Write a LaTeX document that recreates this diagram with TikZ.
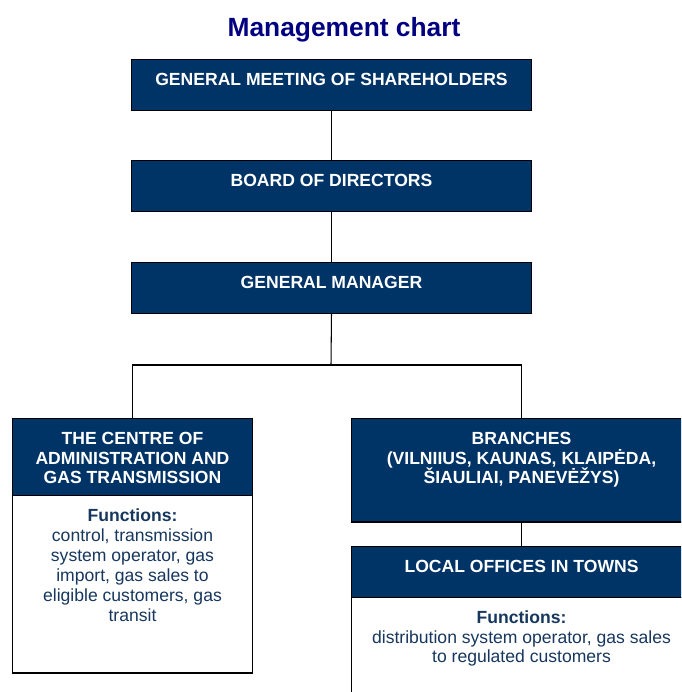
\documentclass[tikz,border=0pt]{standalone}
\usepackage{fontspec}
\setmainfont{Liberation Sans}
\usetikzlibrary{positioning}
\definecolor{boxblue}{RGB}{0,51,102}
\definecolor{titleblue}{RGB}{0,0,128}
\definecolor{textblue}{RGB}{23,55,94}

\begin{document}
\begin{tikzpicture}[x=0.02cm, y=-0.02cm,
    head/.style={draw=black, fill=boxblue, line width=0.6pt, anchor=north west, inner sep=0pt},
    body/.style={draw=black, fill=white, line width=0.6pt, anchor=north west, inner sep=0pt},
    headtext/.style={anchor=north, inner sep=0pt, align=center, text=white,
      font=\fontsize{10}{11.34}\selectfont\bfseries},
    bodytext/.style={anchor=north, inner sep=0pt, align=center, text=textblue,
      font=\fontsize{10}{11.34}\selectfont},
    link/.style={draw=black, line width=0.6pt}]
    \clip (0,0) rectangle (681,692);

    \node[anchor=base, text=titleblue, font=\fontsize{15}{18}\selectfont\bfseries] (title) at (344,36.7) {Management chart};

    % top of the chart
    \node[head, minimum width=8cm, minimum height=1.02cm] (gms) at (131,59) {};
    \node[headtext, below=0.28cm of gms.north] (gmstext) {GENERAL MEETING OF SHAREHOLDERS};
    \node[head, minimum width=8cm, minimum height=1.02cm] (board) at (131,160) {};
    \node[headtext, below=0.27cm of board.north] (boardtext) {BOARD OF DIRECTORS};
    \node[head, minimum width=8cm, minimum height=1.02cm] (gm) at (131,262) {};
    \node[headtext, below=0.28cm of gm.north] (gmtext) {GENERAL MANAGER};

    % left column
    \node[head, minimum width=4.8cm, minimum height=1.55cm] (centre) at (12,418) {};
    \node[headtext, below=0.27cm of centre.north] (centretext) {THE CENTRE OF\\ADMINISTRATION AND\\GAS TRANSMISSION};
    \node[body, minimum width=4.8cm, minimum height=3.55cm] (centrefn) at (12,495) {};
    \node[bodytext, below=0.27cm of centrefn.north] (centrefntext) {\textbf{Functions:}\\control, transmission\\system operator, gas\\import, gas sales to\\eligible customers, gas\\transit};

    % right column
    \node[head, minimum width=6.8cm, minimum height=2.07cm] (branches) at (351,418) {};
    \node[headtext, below=0.27cm of branches.north] (branchestext) {BRANCHES\\(VILNIIUS, KAUNAS, KLAIPĖDA,\\ŠIAULIAI, PANEVĖŽYS)};
    \node[head, minimum width=6.8cm, minimum height=1.02cm] (local) at (351,546) {};
    \node[headtext, below=0.28cm of local.north] (localtext) {LOCAL OFFICES IN TOWNS};
    \node[body, minimum width=6.8cm, minimum height=2.4cm] (localfn) at (351,597) {};
    \node[bodytext, below=0.26cm of localfn.north] (localfntext) {\textbf{Functions:}\\distribution system operator, gas sales\\to regulated customers};

    \coordinate (split) at (331,365);
    \draw[link] (gms.south) -- (board.north);
    \draw[link] (board.south) -- (gm.north);
    \draw[link] (gm.south) -- (split);
    \draw[link] (split) -| (centre.north);
    \draw[link] (split) -| (branches.north);
    \draw[link] (branches.south) -- (local.north);
\end{tikzpicture}
\end{document}
